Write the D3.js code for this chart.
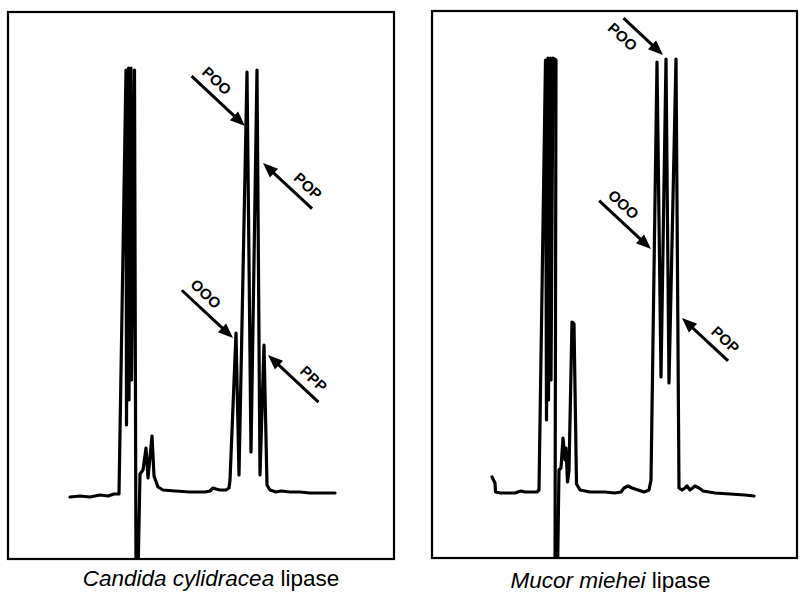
<!DOCTYPE html>
<html>
<head>
<meta charset="utf-8">
<script src="https://cdn.jsdelivr.net/npm/d3@7"></script>
<style>
  body { margin: 0; background: #fff; }
  svg { display: block; }
  .frame { fill: none; stroke: #000; stroke-width: 2.2; }
  .trace { fill: none; stroke: #000; stroke-width: 3.2; stroke-linejoin: round; stroke-linecap: round; }
  .arrow-shaft { stroke: #000; stroke-width: 3; }
  .arrow-head { fill: #000; }
  .peak-label { font-family: "Liberation Sans", Arial, Helvetica, sans-serif; font-weight: bold; font-size: 15px; }
  .caption { font-family: "Liberation Sans", Arial, Helvetica, sans-serif; font-size: 22.5px; }
</style>
</head>
<body>
<div id="chart"></div>
<script>
// recorder traces, [time, response] in chart-paper units
const candidaTrace = [
  [62, 62], [72, 63], [82, 62], [92, 64], [100, 63], [106, 65], [111, 65],
  [118, 489], [118.5, 134], [120.5, 491], [121, 159], [123, 491], [123.5, 179],
  [126.5, 489], [128, -16], [130, -16], [132, 85], [135, 89], [138, 111], [140, 81],
  [144, 123], [146, 83], [150, 72], [155, 69], [167, 68], [182, 67], [197, 67],
  [202, 68], [205, 71], [208, 70], [212, 69], [218, 69], [221, 71], [222, 79],
  [228, 226], [231, 84], [239, 487], [243, 107], [249, 489], [252, 84], [256, 214],
  [259, 74], [262, 69], [268, 67], [273, 68], [282, 67], [292, 67], [302, 66],
  [312, 66], [327, 66]
];

const mucorTrace = [
  [60, 81], [63, 75], [63.5, 66], [68, 65], [83, 65], [86, 66], [89, 67], [93, 66],
  [105, 66], [107, 68], [113.5, 498], [114.5, 138], [116, 500], [116.5, 158],
  [118.5, 500], [119, 178], [121, 500], [124, 498], [123, -17], [125.5, -17],
  [127, 88], [129, 90], [131, 120], [133, 98], [134, 110], [135.5, 76], [137, 88],
  [140, 236], [142, 234], [144.5, 74], [148, 68], [158, 66], [173, 66], [183, 65],
  [189, 66], [192, 70], [196, 72], [200, 70], [206, 68], [212, 66], [217, 68],
  [219, 78], [225, 496], [229, 181], [234, 499], [237, 175], [244, 499], [247, 70],
  [250, 68], [253, 70], [255, 72], [258, 68], [263, 72], [267, 70], [271, 67],
  [283, 65], [298, 64], [313, 63], [322, 62]
];

// peak labels: tip of the arrow (time, response), where the arrow comes from,
// which side of the shaft the label sits on
const candidaPeaks = [
  { label: "POO", t: 237, r: 433, from: "nw", side: 1, len: 73 },
  { label: "POP", t: 255, r: 396, from: "se", side: 1, len: 67 },
  { label: "OOO", t: 225, r: 221, from: "nw", side: 1, len: 70 },
  { label: "PPP", t: 260, r: 204, from: "se", side: 1, len: 69 }
];

const mucorPeaks = [
  { label: "POO", t: 231, r: 503, from: "nw", side: -1, len: 54 },
  { label: "OOO", t: 219, r: 309, from: "nw", side: 1, len: 71 },
  { label: "POP", t: 250, r: 240, from: "se", side: 1, len: 63 }
];

const captions = [
  { italic: "Candida cylidracea", plain: " lipase" },
  { italic: "Mucor miehei", plain: " lipase" }
];


class Chromatogram {
  constructor(svg, box){
    this.svg = svg;
    this.box = box;
    this.xScale;
    this.yScale;
    this.group;
    this.arrowAngle = 43 * Math.PI / 180;
  }

  init(id){
    this.xScale = d3.scaleLinear().domain([0, this.box.w]).range([this.box.x, this.box.x + this.box.w]);
    this.yScale = d3.scaleLinear().domain([0, this.box.h]).range([this.box.y + this.box.h, this.box.y]);

    this.svg.select("defs").append("clipPath")
        .attr("id", "clip-" + id)
        .append("rect")
        .attr("x", this.box.x)
        .attr("y", this.box.y)
        .attr("width", this.box.w)
        .attr("height", this.box.h);

    this.group = this.svg.append("g").attr("class", "panel panel-" + id);
    this.clipId = "clip-" + id;
  }

  draw(trace, peaks, caption){
    this.group.append("rect")
        .attr("class", "frame")
        .attr("x", this.box.x)
        .attr("y", this.box.y)
        .attr("width", this.box.w)
        .attr("height", this.box.h);

    let line = d3.line()
        .x(d => this.xScale(d[0]))
        .y(d => this.yScale(d[1]));

    this.group.append("path")
        .datum(trace)
        .attr("class", "trace")
        .attr("clip-path", "url(#" + this.clipId + ")")
        .attr("d", line);

    this.drawArrows(peaks);

    let cap = this.group.append("text")
        .attr("class", "caption")
        .attr("x", this.box.x + this.box.w / 2 + caption.dx)
        .attr("y", this.box.y + this.box.h + caption.dy)
        .attr("text-anchor", "middle");
    cap.append("tspan").style("font-style", "italic").text(caption.italic);
    cap.append("tspan").text(caption.plain);
  }

  drawArrows(peaks){
    const c = Math.cos(this.arrowAngle), s = Math.sin(this.arrowAngle);
    const headLen = 15, headHalf = 6;

    let arrows = this.group.selectAll(".peak-arrow").data(peaks).enter()
        .append("g").attr("class", "peak-arrow");

    arrows.each((d, i, nodes) => {
      let g = d3.select(nodes[i]);
      let tip = [this.xScale(d.t), this.yScale(d.r)];
      let sign = d.from === "nw" ? -1 : 1;
      let tail = [tip[0] + sign * d.len * c, tip[1] + sign * d.len * s];
      // unit vector tail -> tip
      let ux = (tip[0] - tail[0]) / d.len, uy = (tip[1] - tail[1]) / d.len;
      let base = [tip[0] - ux * headLen, tip[1] - uy * headLen];

      g.append("line")
          .attr("class", "arrow-shaft")
          .attr("x1", tail[0]).attr("y1", tail[1])
          .attr("x2", base[0] + ux * 2).attr("y2", base[1] + uy * 2);

      g.append("path")
          .attr("class", "arrow-head")
          .attr("d", "M" + tip + "L" + [base[0] - uy * headHalf, base[1] + ux * headHalf]
                + "L" + [base[0] + uy * headHalf, base[1] - ux * headHalf] + "Z");

      let mid = [(tip[0] + tail[0]) / 2, (tip[1] + tail[1]) / 2];
      let lx = mid[0] - ux * 15 + s * 14 * d.side;
      let ly = mid[1] - uy * 15 - c * 14 * d.side;

      g.append("text")
          .attr("class", "peak-label")
          .attr("text-anchor", "middle")
          .attr("dominant-baseline", "central")
          .attr("transform", "translate(" + [lx, ly] + ") rotate(" + (this.arrowAngle * 180 / Math.PI) + ")")
          .text(d.label);
    });
  }
}


const svg = d3.select("#chart").append("svg").attr("width", 804).attr("height", 592);
svg.append("rect").attr("width", 804).attr("height", 592).attr("fill", "#fff");
svg.append("defs");

const left = new Chromatogram(svg, { x: 8, y: 12, w: 386, h: 547 });
left.init("candida");
left.draw(candidaTrace, candidaPeaks, Object.assign({ dx: 10, dy: 27 }, captions[0]));

const right = new Chromatogram(svg, { x: 432, y: 11, w: 365, h: 547 });
right.init("mucor");
right.draw(mucorTrace, mucorPeaks, Object.assign({ dx: -4, dy: 30 }, captions[1]));
</script>
</body>
</html>
